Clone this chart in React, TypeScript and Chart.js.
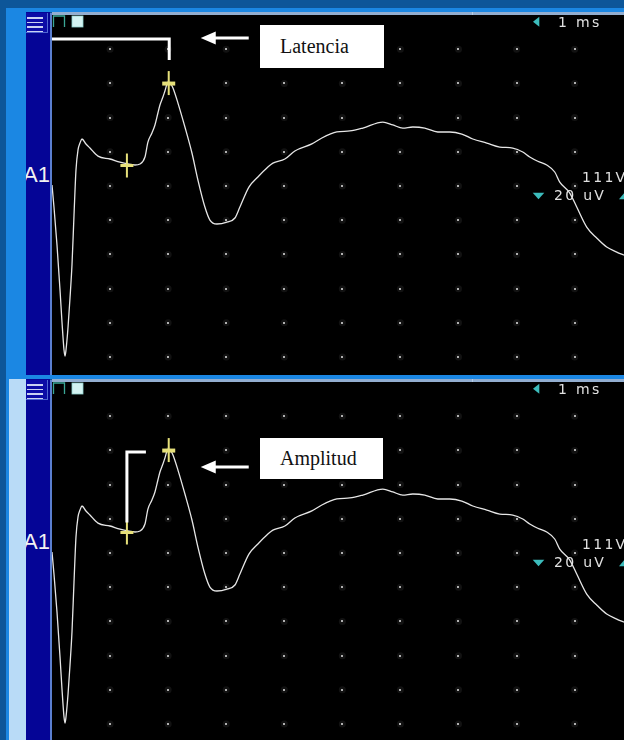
import React, { useEffect, useRef } from "react";
import { Chart, registerables } from "chart.js";

Chart.register(...registerables);

// ---------------- data ----------------
const TRACE_MS = [
  0, 0.034, 0.086, 0.138, 0.172, 0.207, 0.224, 0.241, 0.275, 0.31, 0.344, 0.379, 0.413, 0.448, 0.482, 0.516,
  0.585, 0.654, 0.792, 0.998, 1.17, 1.308, 1.429, 1.515, 1.601, 1.652, 1.721, 1.773, 1.824, 1.859, 1.91, 1.945,
  1.997, 2.048, 2.083, 2.169, 2.289, 2.41, 2.513, 2.633, 2.719, 2.84, 3.012, 3.15, 3.236, 3.391, 3.546, 3.718,
  3.804, 4.01, 4.182, 4.475, 4.647, 4.905, 5.129, 5.353, 5.697, 5.869, 6.041, 6.213, 6.42, 6.644, 6.85, 7.057,
  7.246, 7.487, 7.711, 7.935, 8.107, 8.227, 8.365, 8.52, 8.657, 8.744, 8.916, 9.036, 9.208, 9.38, 9.552, 9.725,
  9.85,
];
const TRACE_UV = [
  -19.4, -32.3, -54.5, -80.8, -99.5, -115.9, -119.4, -115.9, -103.0, -85.5, -66.2, -37.0, -10.6, 1.1, 5.1, 7.5,
  4.6, 2.2, -2.5, -4.2, -6.0, -7.1, -7.7, -7.1, -3.0, 5.7, 11.0, 15.7, 22.7, 27.4, 32.0, 35.6,
  40.8, 39.6, 37.3, 28.5, 14.5, -0.7, -16.5, -32.3, -39.9, -42.2, -41.1, -38.7, -32.3, -20.6, -14.7, -8.9,
  -6.6, -4.2, 0.5, 4.6, 8.1, 11.6, 12.2, 13.9, 17.4, 15.7, 13.9, 14.5, 13.9, 11.6, 11.6, 10.4,
  7.5, 5.1, 2.8, 2.2, -0.1, -3.0, -5.5, -7.7, -11.8, -17.7, -24.1, -32.3, -44.0, -50.4, -55.7, -58.6,
  -60.4,
];
// cursors: [peak, baseline]
const CURSOR_MS = [2.01, 1.29];
const CURSOR_UV = [40.2, -8.0];

const X_RANGE_MS = [0, 9.85];
const Y_RANGE_UV = [-130.5, 80];
const DIV_MS = 1;
const DIV_UV = 20;

const CHANNEL_LABEL = "A1";
const TIMEBASE_LABEL = "1 ms";
const FILTER_LABEL = "111V";
const GAIN_LABEL = "20 uV";
const NOTE_LABELS = ["Latencia", "Amplitud"];

// ---------------- colours ----------------
const OUTER = "#0d5699";
const BRIGHT = "#1b87e3";
const PALE = "#b9dbf7";
const NAVY = "#050596";
const SEPARATOR = "#5b7fd0";
const TOPLINE = "#93aed0";
const TRACE = "#e6e6e6";
const CURSOR = "#e6e07a";
const CYAN = "#3cbcbc";
const SCALE_TEXT = "#e0e0e0";

const scopeOverlay = {
  id: "scopeOverlay",
  beforeDatasetsDraw(chart: any) {
    const { ctx, scales } = chart;
    const x = scales.x;
    const y = scales.y;
    ctx.save();
    const nx = Math.floor((X_RANGE_MS[1] - X_RANGE_MS[0]) / DIV_MS);
    const ny = Math.floor((Y_RANGE_UV[1] - Y_RANGE_UV[0]) / DIV_UV);
    for (let i = 1; i <= nx; i++) {
      for (let j = 1; j <= ny; j++) {
        const px = x.getPixelForValue(X_RANGE_MS[0] + i * DIV_MS);
        const py = y.getPixelForValue(Y_RANGE_UV[1] - j * DIV_UV);
        ctx.fillStyle = "rgba(255,255,255,0.07)";
        ctx.beginPath();
        ctx.arc(px, py, 3.5, 0, Math.PI * 2);
        ctx.fill();
        ctx.fillStyle = "#b0b0b0";
        ctx.fillRect(Math.round(px) - 1, Math.round(py) - 1, 2, 2);
      }
    }
    ctx.restore();
  },
  afterDatasetsDraw(chart: any, _args: any, opts: any) {
    const { ctx, scales } = chart;
    const x = scales.x;
    const y = scales.y;
    ctx.save();
    // cursors
    ctx.fillStyle = CURSOR;
    for (let i = 0; i < CURSOR_MS.length; i++) {
      const cx = x.getPixelForValue(CURSOR_MS[i]);
      const cy = y.getPixelForValue(CURSOR_UV[i]);
      ctx.fillRect(cx - 1, cy - 12, 2, 24);
      ctx.fillRect(cx - 6.5, cy - 1.5, 13, i === 0 ? 4 : 3);
    }
    const peakX = x.getPixelForValue(CURSOR_MS[0]);
    const peakY = y.getPixelForValue(CURSOR_UV[0]);
    const baseX = x.getPixelForValue(CURSOR_MS[1]);
    const baseY = y.getPixelForValue(CURSOR_UV[1]);
    ctx.strokeStyle = "#ffffff";
    ctx.fillStyle = "#ffffff";
    ctx.lineWidth = 3;
    ctx.lineCap = "butt";
    let arrowY: number;
    if (opts.kind === "latency") {
      const by = peakY - 44;
      ctx.beginPath();
      ctx.moveTo(x.getPixelForValue(X_RANGE_MS[0]), by);
      ctx.lineTo(peakX + 0.5, by);
      ctx.lineTo(peakX + 0.5, peakY - 23);
      ctx.stroke();
      arrowY = peakY - 45;
    } else {
      const ty = peakY + 2;
      ctx.beginPath();
      ctx.moveTo(baseX + 19, ty);
      ctx.lineTo(baseX, ty);
      ctx.lineTo(baseX, baseY - 10);
      ctx.stroke();
      arrowY = peakY + 17;
    }
    const tipX = peakX + 32;
    const endX = peakX + 80;
    ctx.beginPath();
    ctx.moveTo(tipX + 13, arrowY);
    ctx.lineTo(endX, arrowY);
    ctx.stroke();
    ctx.beginPath();
    ctx.moveTo(tipX, arrowY);
    ctx.lineTo(tipX + 15, arrowY - 6.5);
    ctx.lineTo(tipX + 15, arrowY + 6.5);
    ctx.closePath();
    ctx.fill();
    ctx.restore();
  },
};

type Kind = "latency" | "amplitude";

function ScopePanel({ y0, strip, kind }: { y0: number; strip: string; kind: Kind }) {
  const ref = useRef<HTMLCanvasElement>(null);
  useEffect(() => {
    const chart = new Chart(ref.current as HTMLCanvasElement, {
      type: "line",
      data: {
        datasets: [
          {
            data: TRACE_MS.map((v, i) => ({ x: v, y: TRACE_UV[i] })),
            borderColor: TRACE,
            borderWidth: 1.3,
            pointRadius: 0,
            cubicInterpolationMode: "monotone",
          },
        ],
      },
      options: {
        animation: false,
        responsive: false,
        maintainAspectRatio: false,
        devicePixelRatio: 1,
        events: [],
        layout: { padding: 0 },
        plugins: {
          legend: { display: false },
          tooltip: { enabled: false },
          scopeOverlay: { kind },
        } as any,
        scales: {
          x: { type: "linear", min: X_RANGE_MS[0], max: X_RANGE_MS[1], display: false },
          y: { type: "linear", min: Y_RANGE_UV[0], max: Y_RANGE_UV[1], display: false },
        },
      },
      plugins: [scopeOverlay as any],
    });
    return () => chart.destroy();
  }, [kind]);

  const P = y0 + 7;
  const abs = (s: React.CSSProperties): React.CSSProperties => ({ position: "absolute", ...s });
  const scaleFont: React.CSSProperties = {
    fontFamily: "'DejaVu Sans', sans-serif",
    fontSize: 14,
    lineHeight: "14px",
    letterSpacing: "2.3px",
    color: SCALE_TEXT,
    whiteSpace: "nowrap",
  };
  const note = kind === "latency" ? NOTE_LABELS[0] : NOTE_LABELS[1];
  const noteBox =
    kind === "latency"
      ? { left: 260, top: 25, width: 124, height: 43 }
      : { left: 260, top: 438, width: 123, height: 41 };

  return (
    <>
      <div style={abs({ left: 6, top: y0, width: 618, height: 4, background: BRIGHT })} />
      <div style={abs({ left: 6, top: y0, width: 3, height: 367, background: BRIGHT })} />
      <div style={abs({ left: 9, top: y0 + 4, width: 17, height: 363, background: strip })} />
      <div style={abs({ left: 26, top: y0 + 4, width: 24, height: 363, background: NAVY })} />
      <div style={abs({ left: 50, top: y0 + 5, width: 2, height: 362, background: SEPARATOR })} />
      <div style={abs({ left: 52, top: y0 + 4, width: 572, height: 3, background: TOPLINE })} />
      <div style={abs({ left: 472, top: y0 + 4, width: 1, height: 5, background: "#b8cce4" })} />
      <canvas
        ref={ref}
        width={572}
        height={360}
        style={{ position: "absolute", left: 52, top: P, width: 572, height: 360, background: "#000" }}
      />
      {/* menu icon */}
      <div
        style={abs({
          left: 26,
          top: y0 + 5,
          width: 21,
          height: 19,
          background: "#0c0ca6",
          borderRight: "1px solid #4f66d2",
          borderBottom: "1px solid #4f66d2",
        })}
      />
      {[9, 13.5, 18, 22.5].map((d) => (
        <div key={d} style={abs({ left: 27, top: y0 + d, width: 16, height: 1.5, background: "#c9d2f2" })} />
      ))}
      {/* channel label */}
      <div style={abs({ left: 26, top: P + 149, width: 24, height: 24, overflow: "hidden" })}>
        <span
          style={{
            position: "absolute",
            right: 0,
            top: 0,
            fontFamily: "'Liberation Sans', Arial, sans-serif",
            fontSize: 22,
            lineHeight: "22px",
            color: "#f2f2f2",
            whiteSpace: "nowrap",
          }}
        >
          {CHANNEL_LABEL}
        </span>
      </div>
      {/* scale texts */}
      <div style={abs({ left: 558, top: P + 0.2, ...scaleFont })}>{TIMEBASE_LABEL}</div>
      <div style={abs({ left: 582, top: P + 155, ...scaleFont })}>{FILTER_LABEL}</div>
      <div style={abs({ left: 554, top: P + 173, ...scaleFont })}>{GAIN_LABEL}</div>
      <svg width={624} height={360} style={{ position: "absolute", left: 0, top: P, overflow: "hidden" }}>
        <path d="M53.5 12 V1 H64.5 V12" fill="none" stroke="#3aa796" strokeWidth={1.3} />
        <rect x={72} y={1} width={11} height={11} fill="#d4f3f2" stroke="#8fd2cf" strokeWidth={0.8} />
        <polygon points="533,6.7 539.3,1.7 539.3,11.7" fill={CYAN} />
        <polygon points="532.7,177.7 544.3,177.7 538.5,184.3" fill={CYAN} />
        <polygon points="619,184.3 630,184.3 624.5,177.7" fill={CYAN} />
      </svg>
      {/* annotation label */}
      <div
        style={abs({
          ...noteBox,
          background: "#ffffff",
          boxSizing: "border-box",
          paddingLeft: 20,
          display: "flex",
          alignItems: "center",
          fontFamily: "'Liberation Serif', 'Times New Roman', serif",
          fontSize: 20,
          color: "#111",
          whiteSpace: "nowrap",
        })}
      >
        {note}
      </div>
    </>
  );
}

export default function App() {
  return (
    <div
      style={{
        position: "fixed",
        left: 0,
        top: 0,
        width: 624,
        height: 740,
        overflow: "hidden",
        background: OUTER,
      }}
    >
      <ScopePanel y0={8} strip={BRIGHT} kind="latency" />
      <ScopePanel y0={375} strip={PALE} kind="amplitude" />
    </div>
  );
}
